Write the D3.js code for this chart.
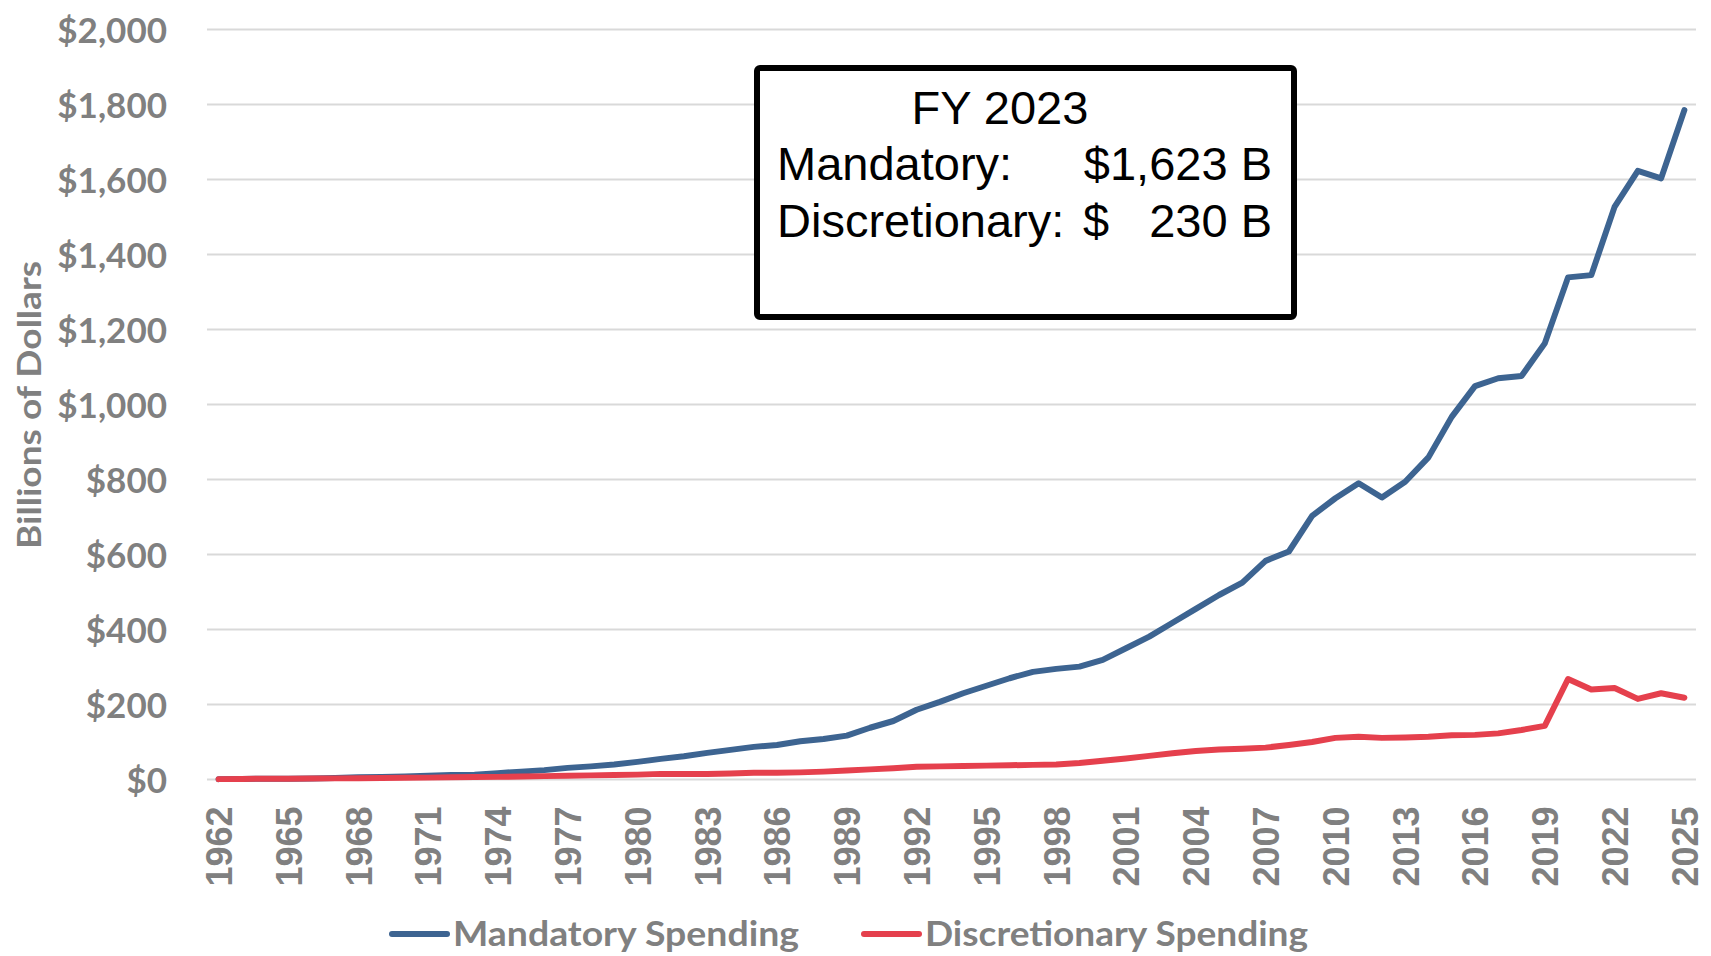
<!DOCTYPE html>
<html>
<head>
<meta charset="utf-8">
<script src="https://cdn.jsdelivr.net/npm/d3@7"></script>
<style>
  body { margin: 0; background: #fff; }
  svg { display: block; }
</style>
</head>
<body>
<svg id="chart" width="1711" height="956"></svg>
<script>
var years = d3.range(1962, 2026);

var mandatory = [
  1, 1.5, 2, 2, 2.5, 4, 6, 7, 8, 10,
  12, 13, 17, 21, 25, 31, 35, 40, 47, 55,
  62, 71, 79, 87, 92, 102, 108, 117, 138, 156,
  186, 207, 230, 250, 270, 287, 295, 301, 319, 350,
  381, 418, 455, 492, 525, 583, 608, 703, 750, 790,
  752, 794, 859, 967, 1049, 1070, 1076, 1163, 1339, 1345,
  1527, 1623, 1603, 1785
];

var discretionary = [
  1, 1.5, 2, 2, 2.5, 3, 3.5, 4, 4.5, 5,
  6, 6.5, 7, 8, 9, 10, 11, 12, 13, 15,
  15, 15, 16, 18, 18, 19, 21, 24, 27, 30,
  34, 35, 36, 37, 38, 39, 40, 44, 50, 56,
  63, 70, 76, 80, 82, 85, 92, 100, 111, 114,
  111, 112, 114, 118, 119, 123, 132, 143, 268, 240,
  244, 215, 230, 218
];

var yTicks = d3.range(0, 2001, 200);
var xTickYears = d3.range(1962, 2026, 3);

var seriesNames = ['Mandatory Spending', 'Discretionary Spending'];
var seriesColors = ['#3d6491', '#e5404d'];

var boxTitle = 'FY 2023';
var boxRows = [
  ['Mandatory:', '$1,623 B'],
  ['Discretionary:', '230 B']
];

var grey = '#808080';
var svg = d3.select('#chart');

var x = d3.scalePoint().domain(years).range([207, 1696]).padding(0.5);
var y = d3.scaleLinear().domain([0, 2000]).range([779.5, 29.5]);

// gridlines
svg.append('g').selectAll('line').data(yTicks).enter().append('line')
  .attr('x1', 207)
  .attr('x2', 1696)
  .attr('y1', function(d) { return y(d); })
  .attr('y2', function(d) { return y(d); })
  .attr('stroke', '#d9d9d9')
  .attr('stroke-width', 2);

// y axis
var yAxis = svg.append('g')
  .attr('transform', 'translate(167,0)')
  .call(d3.axisLeft(y).tickValues(yTicks).tickSize(0).tickPadding(0)
    .tickFormat(function(d) { return '$' + d3.format(',')(d); }));
yAxis.select('.domain').remove();
yAxis.selectAll('text')
  .attr('font-family', 'Lato, sans-serif')
  .attr('font-weight', 'bold')
  .attr('font-size', 35)
  .attr('fill', grey)
  .attr('dy', '0.36em');

// x axis
var xAxis = svg.append('g')
  .attr('transform', 'translate(0,779.5)')
  .call(d3.axisBottom(x).tickValues(xTickYears).tickSize(0));
xAxis.select('.domain').remove();
xAxis.selectAll('text')
  .attr('font-family', '"Liberation Sans", Arial, sans-serif')
  .attr('font-weight', 'bold')
  .attr('font-size', 36)
  .attr('fill', grey)
  .attr('transform', 'rotate(-90)')
  .attr('text-anchor', 'end')
  .attr('x', -27)
  .attr('y', 0)
  .attr('dy', '0.36em');

// y title
svg.append('text')
  .attr('transform', 'translate(29,405) rotate(-90)')
  .attr('text-anchor', 'middle')
  .attr('dy', '0.36em')
  .attr('font-family', 'Lato, sans-serif')
  .attr('font-weight', 'bold')
  .attr('font-size', 33)
  .attr('fill', grey)
  .attr('textLength', 288)
  .attr('lengthAdjust', 'spacingAndGlyphs')
  .text('Billions of Dollars');

// lines
var line = d3.line()
  .x(function(d, i) { return x(years[i]); })
  .y(function(d) { return y(d); });

[mandatory, discretionary].forEach(function(values, i) {
  svg.append('path')
    .datum(values)
    .attr('d', line)
    .attr('fill', 'none')
    .attr('stroke', seriesColors[i])
    .attr('stroke-width', 6)
    .attr('stroke-linejoin', 'round')
    .attr('stroke-linecap', 'round');
});

// legend
var legendItems = [
  { x: 392, width: 346 },
  { x: 864, width: 383 }
];
var legend = svg.append('g').selectAll('g').data(seriesNames).enter().append('g')
  .attr('transform', function(d, i) { return 'translate(' + legendItems[i].x + ',934)'; });
legend.append('line')
  .attr('x1', 0)
  .attr('x2', 55)
  .attr('stroke', function(d, i) { return seriesColors[i]; })
  .attr('stroke-width', 6)
  .attr('stroke-linecap', 'round');
legend.append('text')
  .attr('x', 61)
  .attr('y', 12)
  .attr('font-family', 'Lato, sans-serif')
  .attr('font-weight', 'bold')
  .attr('font-size', 35)
  .attr('fill', grey)
  .attr('textLength', function(d, i) { return legendItems[i].width; })
  .attr('lengthAdjust', 'spacingAndGlyphs')
  .text(function(d) { return d; });

// FY 2023 box
var box = svg.append('g');
box.append('rect')
  .attr('x', 757)
  .attr('y', 68)
  .attr('width', 537)
  .attr('height', 249)
  .attr('rx', 3)
  .attr('fill', '#fff')
  .attr('stroke', '#000')
  .attr('stroke-width', 6);

var boxFont = function(sel) {
  sel.attr('font-family', '"Liberation Sans", Arial, sans-serif')
    .attr('font-size', 47)
    .attr('fill', '#000');
};

box.append('text')
  .attr('x', 1000)
  .attr('y', 124)
  .attr('text-anchor', 'middle')
  .call(boxFont)
  .text(boxTitle);

var rowBaselines = [180, 237];
boxRows.forEach(function(row, i) {
  box.append('text')
    .attr('x', 777)
    .attr('y', rowBaselines[i])
    .call(boxFont)
    .text(row[0]);
  box.append('text')
    .attr('x', 1272)
    .attr('y', rowBaselines[i])
    .attr('text-anchor', 'end')
    .call(boxFont)
    .text(row[1]);
});
box.append('text')
  .attr('x', 1083)
  .attr('y', rowBaselines[1])
  .call(boxFont)
  .text('$');
</script>
</body>
</html>
